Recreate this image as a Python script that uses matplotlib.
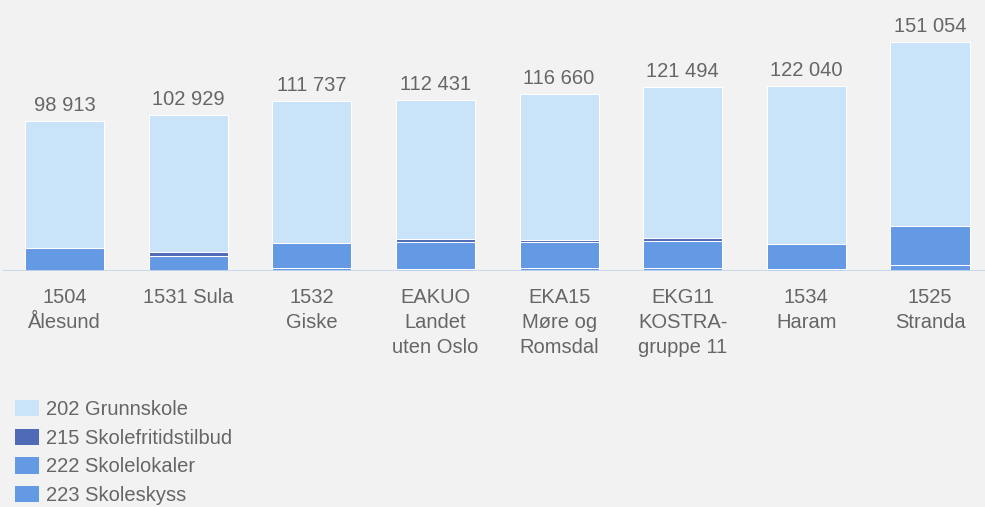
import matplotlib.pyplot as plt
import numpy as np
from matplotlib.patches import Patch

plt.rcParams['font.family'] = ['Liberation Sans', 'DejaVu Sans']

# Data (kr per pupil), stacked bottom -> top
categories = ['1504\nÅlesund', '1531 Sula', '1532\nGiske', 'EAKUO\nLandet\nuten Oslo',
              'EKA15\nMøre og\nRomsdal', 'EKG11\nKOSTRA-\ngruppe 11', '1534\nHaram', '1525\nStranda']
totals = [98913, 102929, 111737, 112431, 116660, 121494, 122040, 151054]
skoleskyss = [0, 0, 2000, 1900, 2600, 2600, 1800, 4300]           # 223
skolelokaler = [15700, 10400, 16700, 17400, 16500, 17400, 16500, 25400]  # 222
skolefritid = [0, 2600, 0, 1800, 1600, 1700, 0, 0]                # 215
grunnskole = [t - a - b - c for t, a, b, c in zip(totals, skoleskyss, skolelokaler, skolefritid)]  # 202

series = [
    ('223 Skoleskyss', skoleskyss, '#6499e4'),
    ('222 Skolelokaler', skolelokaler, '#6499e4'),
    ('215 Skolefritidstilbud', skolefritid, '#4f6bb6'),
    ('202 Grunnskole', grunnskole, '#c9e3f8'),
]

bg = '#f2f2f2'
text_col = '#666666'
fs = 14.5

fig = plt.figure(figsize=(9.85, 5.07), dpi=100, facecolor=bg)
ax = fig.add_axes([0.00274, 0.4645, 1.0042, 0.5355])
ax.set_facecolor(bg)

x = np.arange(len(categories))
bottom = np.zeros(len(categories))
handles = {}
for name, vals, col in series:
    vals = np.array(vals, dtype=float)
    ax.bar(x, vals, bottom=bottom, width=0.64, color=col, edgecolor='white',
           linewidth=0.75, zorder=2)
    bottom += vals
    handles[name] = col

for xi, t in zip(x, totals):
    ax.text(xi, t + 4000, f'{t:,}'.replace(',', ' '), ha='center', va='bottom',
            fontsize=fs, color=text_col)

ax.set_xlim(-0.5, len(categories) - 0.5)
ax.set_ylim(0, 178400)
ax.axhline(0, color='#c5d6ea', linewidth=2, zorder=3)
ax.set_yticks([])
ax.set_xticks(x)
ax.set_xticklabels(categories, fontsize=fs, color=text_col, linespacing=1.41)
ax.tick_params(axis='x', length=0, pad=12)
for s in ax.spines.values():
    s.set_visible(False)

legend_order = ['202 Grunnskole', '215 Skolefritidstilbud', '222 Skolelokaler', '223 Skoleskyss']
leg = fig.legend([Patch(facecolor=handles[n], edgecolor='none') for n in legend_order], legend_order,
                 loc='lower left', bbox_to_anchor=(0.011, -0.004), frameon=False,
                 fontsize=fs, labelcolor=text_col, handlelength=1.19, handleheight=0.88,
                 handletextpad=0.35, labelspacing=0.47, borderaxespad=0, borderpad=0.2)

fig.savefig('out.png', dpi=100, facecolor=bg)
